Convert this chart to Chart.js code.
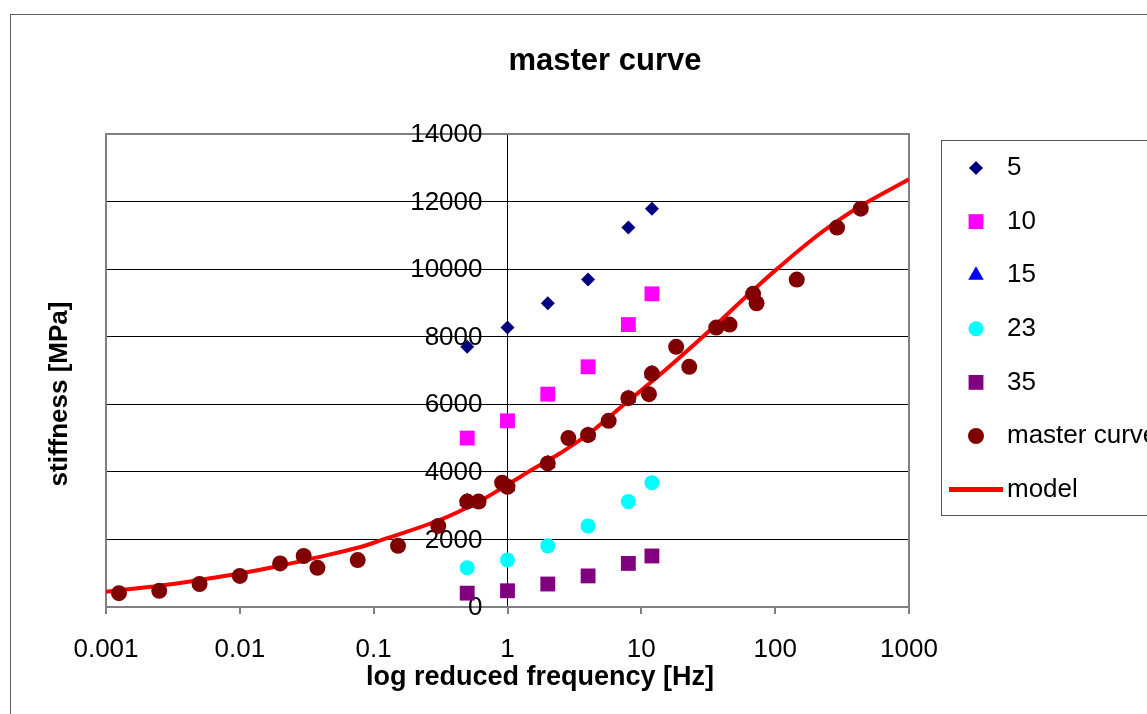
<!DOCTYPE html>
<html>
<head>
<meta charset="utf-8">
<script src="https://cdn.jsdelivr.net/npm/chart.js@4/dist/chart.umd.min.js"></script>
<style>
  html, body { margin: 0; padding: 0; background: #fff; }
  #wrap { width: 1147px; height: 714px; }
</style>
</head>
<body>
<div id="wrap"><canvas id="chart" width="1147" height="714"></canvas></div>
<script>
const FONT = "'Liberation Sans', Arial, sans-serif";

// test frequencies [Hz], same for every temperature
const frequencies = [0.5, 1, 2, 4, 8, 12];

// stiffness per temperature [MPa]
const stiffness5 = [7700, 8270, 8990, 9690, 11230, 11790];
const stiffness10 = [5000, 5510, 6300, 7110, 8360, 9270];
const stiffness15 = [3120, 3560, 4250, 5090, 6180, 6910];
const stiffness23 = [1160, 1390, 1810, 2400, 3120, 3680];
const stiffness35 = [410, 480, 680, 920, 1290, 1510];

// shifted points (reduced frequency)
const masterFreq = [0.00125, 0.0025, 0.005, 0.01, 0.02, 0.03,
  0.038, 0.076, 0.152, 0.304, 0.608, 0.912,
  0.5, 1, 2, 4, 8, 12,
  2.85, 5.7, 11.4, 22.8, 45.6, 68.4,
  18.2, 36.3, 72.6, 145, 290, 436];
const masterStiffness = [410, 480, 680, 920, 1290, 1510,
  1160, 1390, 1810, 2400, 3120, 3680,
  3120, 3560, 4250, 5090, 6180, 6910,
  5000, 5510, 6300, 7110, 8360, 9270,
  7700, 8270, 8990, 9690, 11230, 11790];

// model curve
const modelFreq = [0.001, 0.0025, 0.005, 0.01, 0.02, 0.038, 0.077, 0.118, 0.304, 0.605,
  1, 1.43, 2.47, 4.02, 7.35, 13.8, 28.8, 68.7, 102.8, 200, 316, 444, 1000];
const modelStiffness = [453, 630, 800, 990, 1220, 1470, 1760, 2000, 2560, 3110,
  3620, 4000, 4550, 5120, 5980, 6880, 8000, 9380, 10000, 10950, 11515, 11890, 12660];

const xTicks = [0.001, 0.01, 0.1, 1, 10, 100, 1000];
const xTickLabels = ["0.001", "0.01", "0.1", "1", "10", "100", "1000"];

const toPoints = (xs, ys) => xs.map((x, i) => ({ x: x, y: ys[i] }));

// marker series
const markerSet = (label, values, color, style, radius, order) => ({
  label: label,
  data: toPoints(frequencies, values),
  pointStyle: style,
  pointRadius: radius,
  pointHoverRadius: radius,
  pointBackgroundColor: color,
  pointBorderWidth: 0,
  backgroundColor: color,
  borderColor: color,
  order: order,
});

const excelLook = {
  id: "excelLook",
  beforeDraw(chart) {
    const ctx = chart.ctx;
    ctx.save();
    ctx.fillStyle = "#fff";
    ctx.fillRect(0, 0, chart.width, chart.height);
    ctx.strokeStyle = "#606060";
    ctx.lineWidth = 1;
    ctx.strokeRect(10.5, 14.5, chart.width + 20, chart.height + 20);
    ctx.restore();
  },
  beforeDatasetsDraw(chart) {
    const { ctx, chartArea: a, scales } = chart;
    ctx.save();
    ctx.strokeStyle = "#808080";
    ctx.lineWidth = 2;
    ctx.strokeRect(a.left, a.top, a.right - a.left, a.bottom - a.top);

    // y tick labels sit left of the axis that crosses at x = 1
    const axisX = scales.x.getPixelForValue(1);
    ctx.fillStyle = "#000";
    ctx.font = "26px " + FONT;
    ctx.textAlign = "right";
    ctx.textBaseline = "middle";
    scales.y.ticks.forEach((t) => {
      ctx.fillText(String(t.value), axisX - 25, scales.y.getPixelForValue(t.value) + 1);
    });
    ctx.restore();
  },
  afterDraw(chart) {
    const ctx = chart.ctx;
    ctx.save();
    ctx.fillStyle = "#000";

    // titles
    ctx.textAlign = "center";
    ctx.textBaseline = "alphabetic";
    ctx.font = "bold 31px " + FONT;
    ctx.fillText("master curve", 605, 70);
    ctx.font = "bold 27px " + FONT;
    ctx.fillText("log reduced frequency [Hz]", 540, 685);
    ctx.save();
    ctx.translate(67, 394);
    ctx.rotate(-Math.PI / 2);
    ctx.font = "bold 26px " + FONT;
    ctx.fillText("stiffness [MPa]", 0, 0);
    ctx.restore();

    // legend box
    ctx.strokeStyle = "#555";
    ctx.lineWidth = 1;
    ctx.strokeRect(941.5, 140.5, 300, 375);
    ctx.font = "26px " + FONT;
    ctx.textAlign = "left";
    ctx.textBaseline = "middle";
    chart.data.datasets.forEach((ds, i) => {
      const y = 168 + i * 53.6;
      if (ds.showLine) {
        ctx.strokeStyle = ds.borderColor;
        ctx.lineWidth = 5;
        ctx.beginPath();
        ctx.moveTo(949, y);
        ctx.lineTo(1003, y);
        ctx.stroke();
      } else {
        ctx.fillStyle = ds.pointBackgroundColor;
        Chart.helpers.drawPoint(ctx, { pointStyle: ds.pointStyle, radius: ds.pointRadius, borderWidth: 0, rotation: 0 }, 976, y);
      }
      ctx.fillStyle = "#000";
      ctx.fillText(ds.label, 1007, y);
    });
    ctx.restore();
  },
};

new Chart(document.getElementById("chart"), {
  type: "scatter",
  plugins: [excelLook],
  data: {
    datasets: [
      markerSet("5", stiffness5, "#000080", "rectRot", 7, 7),
      markerSet("10", stiffness10, "#FF00FF", "rect", 10.5, 6),
      markerSet("15", stiffness15, "#0000FF", "triangle", 9, 5),
      markerSet("23", stiffness23, "#00FFFF", "circle", 7.5, 4),
      markerSet("35", stiffness35, "#800080", "rect", 10.5, 3),
      {
        label: "master curve",
        data: toPoints(masterFreq, masterStiffness),
        pointStyle: "circle",
        pointRadius: 8,
        pointHoverRadius: 8,
        pointBackgroundColor: "#800000",
        pointBorderWidth: 0,
        order: 1,
      },
      {
        label: "model",
        data: toPoints(modelFreq, modelStiffness),
        showLine: true,
        borderColor: "#FF0000",
        borderWidth: 4,
        pointRadius: 0,
        pointHoverRadius: 0,
        tension: 0.4,
        order: 2,
      },
    ],
  },
  options: {
    responsive: false,
    animation: false,
    events: [],
    layout: { padding: { left: 106, right: 238, top: 134, bottom: 0 } },
    plugins: {
      legend: { display: false },
      title: { display: false },
      tooltip: { enabled: false },
    },
    scales: {
      x: {
        type: "logarithmic",
        position: "bottom",
        min: 0.001,
        max: 1000,
        afterBuildTicks: (scale) => {
          scale.ticks = xTicks.map((v) => ({ value: v }));
        },
        afterFit: (scale) => {
          scale.height = 107;
        },
        ticks: {
          autoSkip: false,
          maxRotation: 0,
          padding: 20,
          color: "#000",
          font: { family: FONT, size: 26 },
          callback: (value) => xTickLabels[xTicks.indexOf(value)] ?? "",
        },
        grid: { drawOnChartArea: false, drawTicks: true, tickLength: 7, color: "#808080", lineWidth: 2 },
        border: { display: true, color: "#808080", width: 2 },
      },
      y: {
        type: "linear",
        position: { x: 1 },
        min: 0,
        max: 14000,
        ticks: {
          stepSize: 2000,
          display: false,
        },
        grid: { color: "#000", lineWidth: 1, drawTicks: true, tickLength: 7 },
        border: { display: true, color: "#000", width: 1 },
      },
    },
  },
});
</script>
</body>
</html>
